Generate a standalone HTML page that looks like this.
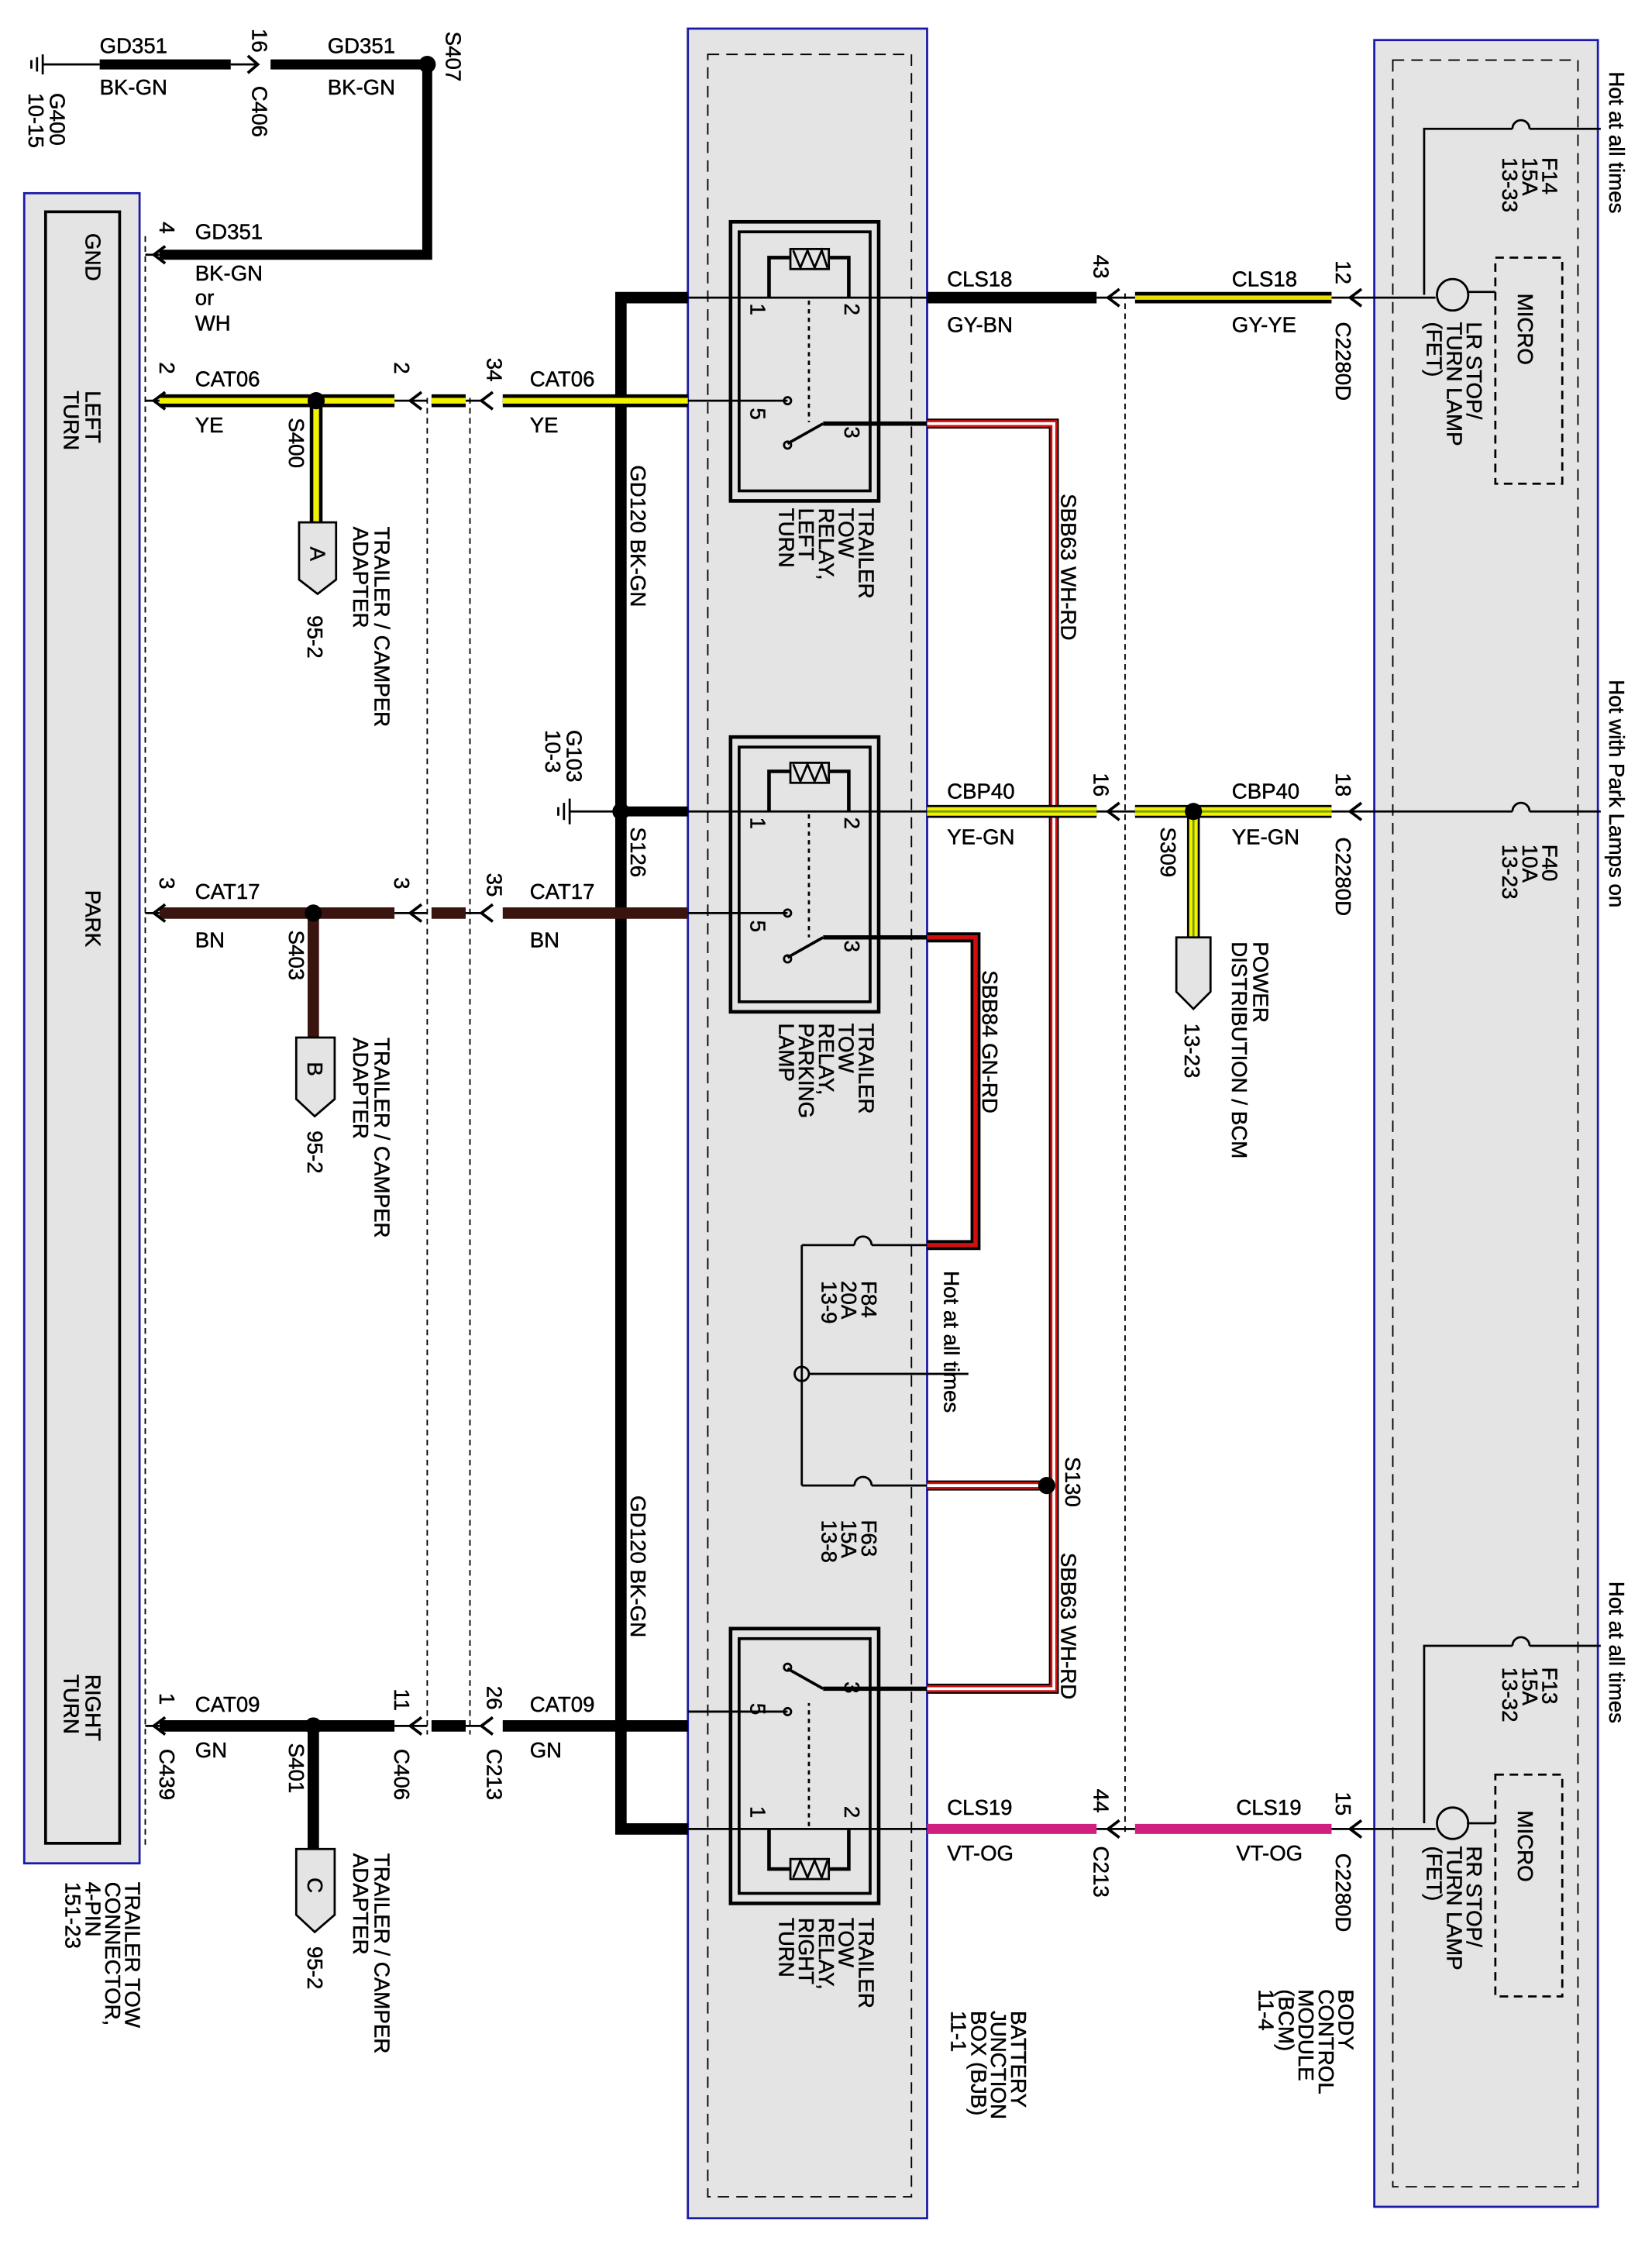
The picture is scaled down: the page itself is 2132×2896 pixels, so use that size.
<!DOCTYPE html>
<html><head><meta charset="utf-8"><style>
html,body{margin:0;padding:0;background:#fff}
svg{display:block}
text{font-family:"Liberation Sans",Arial,sans-serif;font-size:15px;fill:#000;stroke:#000;stroke-width:0.25}
</style></head><body>
<svg width="2132" height="2896" viewBox="0 0 1160 1568" preserveAspectRatio="none" xmlns="http://www.w3.org/2000/svg">
<rect x="17" y="135" width="81" height="1167" fill="#e4e4e4" stroke="#1a1aa8" stroke-width="1.5"/>
<rect x="32" y="148" width="52" height="1140" fill="#e4e4e4" stroke="#000" stroke-width="2"/>
<rect x="483" y="20" width="168" height="1530" fill="#e4e4e4" stroke="#1a1aa8" stroke-width="1.5"/>
<rect x="497" y="38" width="143" height="1497" fill="none" stroke="#000" stroke-width="1" stroke-dasharray="8,5"/>
<rect x="965" y="28" width="157" height="1514" fill="#e4e4e4" stroke="#1a1aa8" stroke-width="1.5"/>
<rect x="978" y="42" width="130" height="1486" fill="none" stroke="#000" stroke-width="1" stroke-dasharray="8,5"/>
<g stroke="#000" stroke-width="1" stroke-dasharray="4,3" fill="none">
<line x1="102" y1="165" x2="102" y2="1290"/>
<line x1="300" y1="278" x2="300" y2="1212"/>
<line x1="330" y1="278" x2="330" y2="1212"/>
<line x1="790" y1="205" x2="790" y2="1282"/>
</g>
<g stroke="#000" fill="none">
<line x1="30" y1="38" x2="30" y2="52" stroke-width="1.5"/>
<line x1="26" y1="40" x2="26" y2="50" stroke-width="1.5"/>
<line x1="22" y1="42" x2="22" y2="48" stroke-width="1.5"/>
<line x1="30" y1="45" x2="70" y2="45" stroke-width="1.5"/>
<line x1="70" y1="45" x2="162" y2="45" stroke-width="7"/>
<polyline points="174,39 181,45 174,51" stroke-width="2"/>
<line x1="162" y1="45" x2="181" y2="45" stroke-width="1.5"/>
<line x1="190" y1="45" x2="300" y2="45" stroke-width="7"/>
<polyline points="300,45 300,178 112,178" stroke-width="7"/>
<polyline points="116,172 108,178 116,184" stroke-width="2"/>
<line x1="102" y1="178" x2="112" y2="178" stroke-width="1.5"/>
</g>
<circle cx="300" cy="45" r="6" fill="#000"/>
<polyline points="483,208 436,208 436,1278 483,1278" fill="none" stroke="#000" stroke-width="8"/>
<line x1="436" y1="567" x2="483" y2="567" stroke="#000" stroke-width="7"/>
<line x1="400" y1="567" x2="436" y2="567" stroke="#000" stroke-width="1.5"/>
<g stroke="#000" stroke-width="1.5"><line x1="400" y1="558" x2="400" y2="576"/><line x1="396" y1="561" x2="396" y2="573"/><line x1="392" y1="564" x2="392" y2="570"/></g>
<circle cx="436" cy="567" r="6" fill="#000"/>
<g fill="none">
<path d="M112,280 H277 M303,280 H327 M353,280 H483 M222,280 V365" stroke="#000" stroke-width="9"/>
<path d="M112,280 H277 M303,280 H327 M353,280 H483 M222,280 V365" stroke="#f2f200" stroke-width="4"/>
<path d="M112,638 H277 M303,638 H327 M353,638 H483 M220,638 V725" stroke="#3a1510" stroke-width="8"/>
<path d="M112,1206 H277 M303,1206 H327 M353,1206 H483 M220,1206 V1292" stroke="#000" stroke-width="8"/>
</g>
<g fill="none" stroke="#000" stroke-width="2">
<polyline points="116,274 108,280 116,286"/><polyline points="116,632 108,638 116,644"/><polyline points="116,1200 108,1206 116,1212"/>
<polyline points="296,274 288,280 296,286"/><polyline points="296,632 288,638 296,644"/><polyline points="296,1200 288,1206 296,1212"/>
<polyline points="346,274 338,280 346,286"/><polyline points="346,632 338,638 346,644"/><polyline points="346,1200 338,1206 346,1212"/>
</g>
<g stroke="#000" stroke-width="1.5"><path d="M102,280H112M102,638H112M102,1206H112M277,280H300M277,638H300M277,1206H300M327,280H338M327,638H338M327,1206H338"/></g>
<circle cx="222" cy="280" r="6" fill="#000"/><circle cx="220" cy="638" r="6" fill="#000"/><circle cx="220" cy="1206" r="6" fill="#000"/>
<g fill="#e4e4e4" stroke="#000" stroke-width="1.5">
<polygon points="210,365 236,365 236,405 223,415 210,405"/>
<polygon points="208,725 235,725 235,768 221,780 208,768"/>
<polygon points="208,1292 235,1292 235,1338 221,1350 208,1338"/>
</g>
<text transform="translate(218,382) rotate(90)">A</text>
<text transform="translate(216,742) rotate(90)">B</text>
<text transform="translate(216,1312) rotate(90)">C</text>
<g fill="none" stroke="#000">
<rect x="513" y="155" width="104" height="195" stroke-width="2.5"/><rect x="519" y="162" width="92" height="181" stroke-width="2"/>
<rect x="513" y="515" width="104" height="192" stroke-width="2.5"/><rect x="519" y="522" width="92" height="178" stroke-width="2"/>
<rect x="513" y="1138" width="104" height="192" stroke-width="2.5"/><rect x="519" y="1145" width="92" height="178" stroke-width="2"/>
</g>
<g fill="none" stroke="#000" stroke-width="1.5">
<line x1="483" y1="208" x2="651" y2="208"/>
<polyline points="540,208 540,180 596,180 596,208" stroke-width="2.5"/>
<rect x="555" y="174" width="27" height="14" fill="#e4e4e4"/>
<polyline points="557,175 562,187 567,175 572,187 577,175 581,187"/>
<line x1="568" y1="210" x2="568" y2="295" stroke-dasharray="3,3"/>
<line x1="483" y1="280" x2="553" y2="280"/>
<circle cx="553" cy="280" r="2.5"/>
<line x1="553" y1="310" x2="578" y2="296" stroke-width="2"/>
<circle cx="553" cy="311" r="2.5"/>
<line x1="578" y1="296" x2="651" y2="296" stroke-width="3"/>
<line x1="483" y1="567" x2="651" y2="567"/>
<polyline points="540,567 540,539 596,539 596,567" stroke-width="2.5"/>
<rect x="555" y="533" width="27" height="14" fill="#e4e4e4"/>
<polyline points="557,534 562,546 567,534 572,546 577,534 581,546"/>
<line x1="568" y1="569" x2="568" y2="655" stroke-dasharray="3,3"/>
<line x1="483" y1="638" x2="553" y2="638"/>
<circle cx="553" cy="638" r="2.5"/>
<line x1="553" y1="669" x2="578" y2="655" stroke-width="2"/>
<circle cx="553" cy="670" r="2.5"/>
<line x1="578" y1="655" x2="651" y2="655" stroke-width="3"/>
<line x1="483" y1="1278" x2="651" y2="1278"/>
<polyline points="540,1278 540,1306 596,1306 596,1278" stroke-width="2.5"/>
<rect x="555" y="1299" width="27" height="14" fill="#e4e4e4"/>
<polyline points="557,1312 562,1300 567,1312 572,1300 577,1312 581,1300"/>
<line x1="568" y1="1276" x2="568" y2="1190" stroke-dasharray="3,3"/>
<line x1="483" y1="1196" x2="553" y2="1196"/>
<circle cx="553" cy="1196" r="2.5"/>
<line x1="553" y1="1166" x2="578" y2="1180" stroke-width="2"/>
<circle cx="553" cy="1165" r="2.5"/>
<line x1="578" y1="1180" x2="651" y2="1180" stroke-width="3"/>
<polyline points="651,870 612,870"/><path d="M612,870 a6,6 0 0 0 -12,0"/><line x1="600" y1="870" x2="563" y2="870"/>
<line x1="563" y1="870" x2="563" y2="1038"/>
<circle cx="563" cy="960" r="5"/><line x1="568" y1="960" x2="680" y2="960"/>
<line x1="563" y1="1038" x2="600" y2="1038"/><path d="M600,1038 a6,6 0 0 1 12,0"/><line x1="612" y1="1038" x2="651" y2="1038"/>
</g>
<g fill="none">
<path d="M651,296 H740 V1180 H651 M740,1038 H651" stroke="#000" stroke-width="7"/>
<path d="M651,296 H740 V1180 H651 M740,1038 H651" stroke="#d01010" stroke-width="5"/>
<path d="M651,296 H740 V1180 H651 M740,1038 H651" stroke="#fff" stroke-width="2"/>
<path d="M651,655 H685 V870 H651" stroke="#000" stroke-width="7"/>
<path d="M651,655 H685 V870 H651" stroke="#d01010" stroke-width="3"/>
</g>
<circle cx="735" cy="1038" r="6" fill="#000"/>
<g fill="none">
<line x1="651" y1="208" x2="770" y2="208" stroke="#000" stroke-width="8"/>
<line x1="797" y1="208" x2="935" y2="208" stroke="#000" stroke-width="8"/>
<line x1="797" y1="208" x2="935" y2="208" stroke="#e8e000" stroke-width="3"/>
<path d="M651,567 H770 M797,567 H935 M838,567 V655" stroke="#000" stroke-width="9"/>
<path d="M651,567 H770 M797,567 H935 M838,567 V655" stroke="#f2f200" stroke-width="6"/>
<path d="M651,567 H770 M797,567 H935 M838,567 V655" stroke="#7a9a00" stroke-width="1.5"/>
<line x1="651" y1="1278" x2="770" y2="1278" stroke="#d0207f" stroke-width="7"/>
<line x1="797" y1="1278" x2="935" y2="1278" stroke="#d0207f" stroke-width="7"/>
</g>
<circle cx="838" cy="567" r="6" fill="#000"/>
<polygon points="826,655 850,655 850,693 838,705 826,693" fill="#e4e4e4" stroke="#000" stroke-width="1.5"/>
<g fill="none" stroke="#000" stroke-width="2">
<polyline points="786,202 778,208 786,214"/><polyline points="786,561 778,567 786,573"/><polyline points="786,1272 778,1278 786,1284"/>
<polyline points="956,202 948,208 956,214"/><polyline points="956,561 948,567 956,573"/><polyline points="956,1272 948,1278 956,1284"/>
</g>
<g stroke="#000" stroke-width="1.5" fill="none">
<path d="M770,208H797M770,567H797M770,1278H797M935,208H965M935,567H965M935,1278H965"/>
<path d="M965,208 H1008"/><path d="M1030,204 H1050"/>
<circle cx="1020" cy="206" r="11"/>
<polyline points="1000,206 1000,90 1062,90"/><path d="M1062,90 a6,6 0 0 1 12,0"/><line x1="1074" y1="90" x2="1124" y2="90"/>
<path d="M965,567 H1062"/><path d="M1062,567 a6,6 0 0 1 12,0"/><line x1="1074" y1="567" x2="1124" y2="567"/>
<path d="M965,1278 H1008"/><path d="M1030,1274 H1050"/>
<circle cx="1020" cy="1274" r="11"/>
<polyline points="1000,1274 1000,1150 1062,1150"/><path d="M1062,1150 a6,6 0 0 1 12,0"/><line x1="1074" y1="1150" x2="1124" y2="1150"/>
<rect x="1050" y="180" width="47" height="158" stroke-dasharray="6,4"/>
<rect x="1050" y="1240" width="47" height="155" stroke-dasharray="6,4"/>
</g>
<g>
<text x="70" y="37">GD351</text><text x="70" y="66">BK-GN</text>
<text x="230" y="37">GD351</text><text x="230" y="66">BK-GN</text>
<text x="137" y="167">GD351</text><text x="137" y="196">BK-GN</text><text x="137" y="213">or</text><text x="137" y="231">WH</text>
<text x="137" y="270">CAT06</text><text x="137" y="302">YE</text>
<text x="372" y="270">CAT06</text><text x="372" y="302">YE</text>
<text x="137" y="628">CAT17</text><text x="137" y="662">BN</text>
<text x="372" y="628">CAT17</text><text x="372" y="662">BN</text>
<text x="137" y="1196">CAT09</text><text x="137" y="1228">GN</text>
<text x="372" y="1196">CAT09</text><text x="372" y="1228">GN</text>
<text x="665" y="200">CLS18</text><text x="665" y="232">GY-BN</text>
<text x="865" y="200">CLS18</text><text x="865" y="232">GY-YE</text>
<text x="665" y="558">CBP40</text><text x="665" y="590">YE-GN</text>
<text x="865" y="558">CBP40</text><text x="865" y="590">YE-GN</text>
<text x="665" y="1268">CLS19</text><text x="665" y="1300">VT-OG</text>
<text x="868" y="1268">CLS19</text><text x="868" y="1300">VT-OG</text>
</g>
<g>
<text transform="translate(35,65) rotate(90)">G400<tspan x="0" dy="15">10-15</tspan></text>
<text transform="translate(177,20) rotate(90)">16</text>
<text transform="translate(177,60) rotate(90)">C406</text>
<text transform="translate(313,22) rotate(90)">S407</text>
<text transform="translate(60,163) rotate(90)">GND</text>
<text transform="translate(112,155) rotate(90)">4</text>
<text transform="translate(60,273) rotate(90)">LEFT<tspan x="0" dy="15">TURN</tspan></text>
<text transform="translate(112,253) rotate(90)">2</text>
<text transform="translate(277,253) rotate(90)">2</text>
<text transform="translate(342,250) rotate(90)">34</text>
<text transform="translate(203,292) rotate(90)">S400</text>
<text transform="translate(263,368) rotate(90)">TRAILER / CAMPER<tspan x="0" dy="15">ADAPTER</tspan></text>
<text transform="translate(216,430) rotate(90)">95-2</text>
<text transform="translate(443,325) rotate(90)">GD120  BK-GN</text>
<text transform="translate(603,355) rotate(90)">TRAILER<tspan x="0" dy="14">TOW</tspan><tspan x="0" dy="14">RELAY,</tspan><tspan x="0" dy="14">LEFT</tspan><tspan x="0" dy="14">TURN</tspan></text>
<text transform="translate(745,345) rotate(90)">SBB63  WH-RD</text>
<text transform="translate(398,510) rotate(90)">G103<tspan x="0" dy="15">10-3</tspan></text>
<text transform="translate(443,578) rotate(90)">S126</text>
<text transform="translate(768,540) rotate(90)">16</text>
<text transform="translate(938,540) rotate(90)">18</text>
<text transform="translate(768,178) rotate(90)">43</text>
<text transform="translate(938,182) rotate(90)">12</text>
<text transform="translate(938,225) rotate(90)">C2280D</text>
<text transform="translate(938,585) rotate(90)">C2280D</text>
<text transform="translate(938,1295) rotate(90)">C2280D</text>
<text transform="translate(815,578) rotate(90)">S309</text>
<text transform="translate(880,658) rotate(90)">POWER<tspan x="0" dy="15">DISTRIBUTION / BCM</tspan></text>
<text transform="translate(832,715) rotate(90)">13-23</text>
<text transform="translate(112,613) rotate(90)">3</text>
<text transform="translate(277,613) rotate(90)">3</text>
<text transform="translate(342,610) rotate(90)">35</text>
<text transform="translate(60,622) rotate(90)">PARK</text>
<text transform="translate(203,650) rotate(90)">S403</text>
<text transform="translate(263,725) rotate(90)">TRAILER / CAMPER<tspan x="0" dy="15">ADAPTER</tspan></text>
<text transform="translate(216,790) rotate(90)">95-2</text>
<text transform="translate(690,678) rotate(90)">SBB84  GN-RD</text>
<text transform="translate(603,715) rotate(90)">TRAILER<tspan x="0" dy="14">TOW</tspan><tspan x="0" dy="14">RELAY,</tspan><tspan x="0" dy="14">PARKING</tspan><tspan x="0" dy="14">LAMP</tspan></text>
<text transform="translate(605,895) rotate(90)">F84<tspan x="0" dy="14">20A</tspan><tspan x="0" dy="14">13-9</tspan></text>
<text transform="translate(663,888) rotate(90)">Hot at all times</text>
<text transform="translate(748,1018) rotate(90)">S130</text>
<text transform="translate(605,1062) rotate(90)">F63<tspan x="0" dy="14">15A</tspan><tspan x="0" dy="14">13-8</tspan></text>
<text transform="translate(443,1045) rotate(90)">GD120  BK-GN</text>
<text transform="translate(745,1085) rotate(90)">SBB63  WH-RD</text>
<text transform="translate(112,1183) rotate(90)">1</text>
<text transform="translate(277,1180) rotate(90)">11</text>
<text transform="translate(342,1178) rotate(90)">26</text>
<text transform="translate(60,1170) rotate(90)">RIGHT<tspan x="0" dy="15">TURN</tspan></text>
<text transform="translate(112,1222) rotate(90)">C439</text>
<text transform="translate(203,1218) rotate(90)">S401</text>
<text transform="translate(277,1222) rotate(90)">C406</text>
<text transform="translate(342,1222) rotate(90)">C213</text>
<text transform="translate(263,1295) rotate(90)">TRAILER / CAMPER<tspan x="0" dy="15">ADAPTER</tspan></text>
<text transform="translate(216,1360) rotate(90)">95-2</text>
<text transform="translate(88,1315) rotate(90)">TRAILER TOW<tspan x="0" dy="14">CONNECTOR,</tspan><tspan x="0" dy="14">4-PIN</tspan><tspan x="0" dy="14">151-23</tspan></text>
<text transform="translate(603,1340) rotate(90)">TRAILER<tspan x="0" dy="14">TOW</tspan><tspan x="0" dy="14">RELAY,</tspan><tspan x="0" dy="14">RIGHT</tspan><tspan x="0" dy="14">TURN</tspan></text>
<text transform="translate(768,1250) rotate(90)">44</text>
<text transform="translate(768,1290) rotate(90)">C213</text>
<text transform="translate(938,1252) rotate(90)">15</text>
<text transform="translate(710,1405) rotate(90)">BATTERY<tspan x="0" dy="14">JUNCTION</tspan><tspan x="0" dy="14">BOX (BJB)</tspan><tspan x="0" dy="14">11-1</tspan></text>
<text transform="translate(940,1390) rotate(90)">BODY<tspan x="0" dy="14">CONTROL</tspan><tspan x="0" dy="14">MODULE</tspan><tspan x="0" dy="14">(BCM)</tspan><tspan x="0" dy="14">11-4</tspan></text>
<text transform="translate(1083,110) rotate(90)">F14<tspan x="0" dy="14">15A</tspan><tspan x="0" dy="14">13-33</tspan></text>
<text transform="translate(1066,205) rotate(90)">MICRO</text>
<text transform="translate(1030,225) rotate(90)">LR STOP/<tspan x="0" dy="14">TURN LAMP</tspan><tspan x="0" dy="14">(FET)</tspan></text>
<text transform="translate(1083,590) rotate(90)">F40<tspan x="0" dy="14">10A</tspan><tspan x="0" dy="14">13-23</tspan></text>
<text transform="translate(1083,1165) rotate(90)">F13<tspan x="0" dy="14">15A</tspan><tspan x="0" dy="14">13-32</tspan></text>
<text transform="translate(1066,1265) rotate(90)">MICRO</text>
<text transform="translate(1030,1290) rotate(90)">RR STOP/<tspan x="0" dy="14">TURN LAMP</tspan><tspan x="0" dy="14">(FET)</tspan></text>
<text transform="translate(1130,50) rotate(90)">Hot at all times</text>
<text transform="translate(1130,475) rotate(90)">Hot with Park Lamps on</text>
<text transform="translate(1130,1105) rotate(90)">Hot at all times</text>
<g style="font-size:11px">
<text transform="translate(527,212) rotate(90)">1</text><text transform="translate(593,212) rotate(90)">2</text>
<text transform="translate(527,285) rotate(90)">5</text><text transform="translate(593,298) rotate(90)">3</text>
<text transform="translate(527,571) rotate(90)">1</text><text transform="translate(593,571) rotate(90)">2</text>
<text transform="translate(527,643) rotate(90)">5</text><text transform="translate(593,657) rotate(90)">3</text>
<text transform="translate(527,1262) rotate(90)">1</text><text transform="translate(593,1262) rotate(90)">2</text>
<text transform="translate(527,1190) rotate(90)">5</text><text transform="translate(593,1175) rotate(90)">3</text>
</g>
</g>
</svg>
</body></html>
